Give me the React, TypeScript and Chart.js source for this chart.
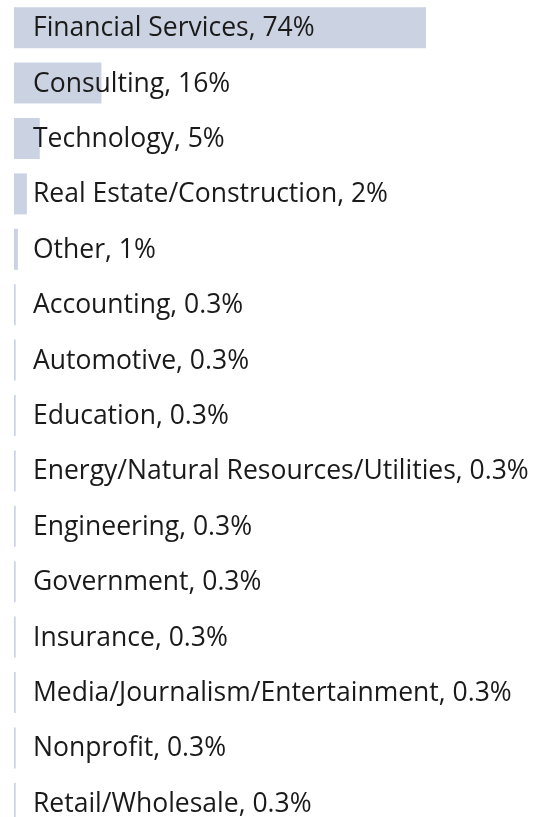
import React, { useEffect, useRef } from "react";
import { Chart, registerables } from "chart.js";

Chart.register(...registerables);

const categories = [
  "Financial Services",
  "Consulting",
  "Technology",
  "Real Estate/Construction",
  "Other",
  "Accounting",
  "Automotive",
  "Education",
  "Energy/Natural Resources/Utilities",
  "Engineering",
  "Government",
  "Insurance",
  "Media/Journalism/Entertainment",
  "Nonprofit",
  "Retail/Wholesale",
];

const values = [73.5, 15.6, 4.6, 2.3, 0.7, 0.3, 0.3, 0.3, 0.3, 0.3, 0.3, 0.3, 0.3, 0.3, 0.3];

const valueLabels = ["74%", "16%", "5%", "2%", "1%", "0.3%", "0.3%", "0.3%", "0.3%", "0.3%", "0.3%", "0.3%", "0.3%", "0.3%", "0.3%"];

export default function App() {
  const ref = useRef<HTMLCanvasElement | null>(null);

  useEffect(() => {
    if (!ref.current) return;
    const labelPlugin = {
      id: "inlineLabels",
      afterDatasetsDraw(chart: any) {
        const ctx = chart.ctx;
        const meta = chart.getDatasetMeta(0);
        ctx.save();
        ctx.font = '26.5px "Open Sans"';
        ctx.fillStyle = "#1a1a1a";
        ctx.textBaseline = "middle";
        ctx.textAlign = "left";
        meta.data.forEach((el: any, i: number) => {
          ctx.fillText(categories[i] + ", " + valueLabels[i], chart.chartArea.left + 19, el.y + 1);
        });
        ctx.restore();
      },
    };
    const chart = new Chart(ref.current, {
      type: "bar",
      data: {
        labels: categories,
        datasets: [
          {
            data: values,
            backgroundColor: "#cbd3e2",
            borderWidth: 0,
            barPercentage: 1,
            categoryPercentage: 0.74,
          },
        ],
      },
      options: {
        indexAxis: "y",
        animation: false,
        responsive: true,
        maintainAspectRatio: false,
        layout: { padding: { left: 14, right: 107, top: 0, bottom: 0 } },
        plugins: { legend: { display: false }, tooltip: { enabled: false } },
        scales: {
          x: { display: false, min: 0, max: 73.5 },
          y: { display: false },
        },
      },
      plugins: [labelPlugin],
    });
    return () => chart.destroy();
  }, []);

  return (
    <div style={{ position: "absolute", left: 0, top: 0, width: 533, height: 831 }}>
      <canvas ref={ref} />
    </div>
  );
}
